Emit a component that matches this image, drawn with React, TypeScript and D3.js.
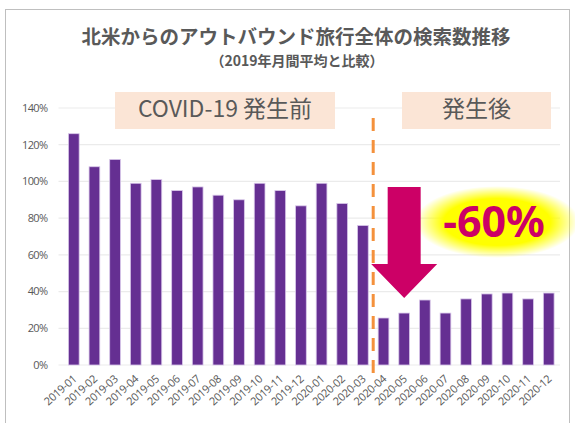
import React, { useEffect, useRef } from 'react';
import * as d3 from 'd3';

const months = [
  '2019-01', '2019-02', '2019-03', '2019-04', '2019-05', '2019-06', '2019-07', '2019-08',
  '2019-09', '2019-10', '2019-11', '2019-12', '2020-01', '2020-02', '2020-03', '2020-04',
  '2020-05', '2020-06', '2020-07', '2020-08', '2020-09', '2020-10', '2020-11', '2020-12',
];
const searchIndex = [
  126, 108, 112, 99, 101, 95, 97, 92.5, 90, 99, 95, 86.7, 99, 88, 76, 25.6,
  28.3, 35.4, 28.3, 36, 38.7, 39.2, 36, 39.2,
];
const yTicks = [0, 20, 40, 60, 80, 100, 120, 140];

const App = () => {
  const svgRef = useRef<SVGSVGElement>(null);

  useEffect(() => {
    const svg = d3.select(svgRef.current);
    const width = 575;
    const height = 423;
    const margin = { top: 108, right: 11, bottom: 58, left: 58.5 };
    const innerWidth = width - margin.left - margin.right;
    const innerHeight = height - margin.top - margin.bottom;
    const font = "'Noto Sans CJK JP', 'Noto Sans', sans-serif";

    svg.selectAll('*').remove();

    // frame
    svg.append('rect')
      .attr('x', 5.5).attr('y', 9.5)
      .attr('width', 564).attr('height', 430)
      .attr('fill', 'white').attr('stroke', '#bfbfbf');

    // title
    svg.append('text')
      .attr('x', 296).attr('y', 44)
      .attr('text-anchor', 'middle')
      .attr('font-family', font).attr('font-weight', 'bold').attr('font-size', 19.5)
      .attr('fill', '#595959')
      .text('北米からのアウトバウンド旅行全体の検索数推移');
    svg.append('text')
      .attr('x', 297).attr('y', 66)
      .attr('text-anchor', 'middle')
      .attr('font-family', font).attr('font-weight', 'bold').attr('font-size', 14)
      .attr('fill', '#595959')
      .text('（2019年月間平均と比較）');

    const g = svg.append('g').attr('transform', `translate(${margin.left},${margin.top})`);

    const x = d3.scaleBand().domain(months).range([0, innerWidth]).padding(0.48);
    const y = d3.scaleLinear().domain([0, 140]).range([innerHeight, 0]);

    // gridlines + y labels
    g.selectAll('.grid')
      .data(yTicks)
      .enter()
      .append('line')
      .attr('x1', 0).attr('x2', innerWidth - 4)
      .attr('y1', (d) => y(d)).attr('y2', (d) => y(d))
      .attr('stroke', '#ebebeb').attr('stroke-width', 1.2);

    g.selectAll('.ylab')
      .data(yTicks)
      .enter()
      .append('text')
      .attr('x', -11)
      .attr('y', (d) => y(d))
      .attr('dy', '0.35em')
      .attr('text-anchor', 'end')
      .attr('font-family', "'Open Sans', sans-serif").attr('font-size', 11)
      .attr('letter-spacing', -0.6)
      .attr('fill', '#595959')
      .text((d) => `${d}%`);

    // period boxes
    const boxes = [
      { label: 'COVID-19 発生前', x0: 115, x1: 335 },
      { label: '発生後', x0: 402, x1: 551 },
    ];
    boxes.forEach((b) => {
      svg.append('rect')
        .attr('x', b.x0).attr('y', 92)
        .attr('width', b.x1 - b.x0).attr('height', 37)
        .attr('fill', '#fbe5d6');
      svg.append('text')
        .attr('x', (b.x0 + b.x1) / 2).attr('y', 109)
        .attr('dy', '0.36em')
        .attr('text-anchor', 'middle')
        .attr('font-family', font).attr('font-size', 23)
        .attr('fill', '#595959')
        .text(b.label);
    });

    // bars
    g.selectAll('.bar')
      .data(searchIndex)
      .enter()
      .append('rect')
      .attr('x', (d, i) => x(months[i])!)
      .attr('y', (d) => y(d))
      .attr('width', x.bandwidth())
      .attr('height', (d) => innerHeight - y(d))
      .attr('fill', '#652f92')
      .attr('stroke', '#d9c8ea')
      .attr('stroke-width', 0.8);

    // x labels
    g.selectAll('.xlab')
      .data(months)
      .enter()
      .append('text')
      .attr('transform', (d) => `translate(${x(d)! + x.bandwidth() / 2 + 1},${innerHeight + 12}) rotate(-42)`)
      .attr('text-anchor', 'end')
      .attr('dy', '0.35em')
      .attr('font-family', "'Open Sans', sans-serif").attr('font-size', 11)
      .attr('letter-spacing', -0.3)
      .attr('fill', '#595959')
      .text((d) => d);

    // divider between 2020-03 and 2020-04
    const divX = (x('2020-03')! + x.bandwidth() + x('2020-04')!) / 2;
    g.append('line')
      .attr('x1', divX).attr('x2', divX)
      .attr('y1', 10).attr('y2', innerHeight + 10)
      .attr('stroke', '#f4913c').attr('stroke-width', 3)
      .attr('stroke-dasharray', '13,9');

    // -60% glow
    const defs = svg.append('defs');
    const grad = defs.append('radialGradient').attr('id', 'glow');
    grad.append('stop').attr('offset', '0%').attr('stop-color', '#ffff00').attr('stop-opacity', 1);
    grad.append('stop').attr('offset', '65%').attr('stop-color', '#ffff00').attr('stop-opacity', 1);
    grad.append('stop').attr('offset', '100%').attr('stop-color', '#ffff00').attr('stop-opacity', 0);
    svg.append('ellipse')
      .attr('cx', 497).attr('cy', 222)
      .attr('rx', 82).attr('ry', 36)
      .attr('fill', 'url(#glow)');

    // arrow
    const ax = x('2020-05')! + x.bandwidth() / 2 + margin.left;
    const arrow = d3.path();
    arrow.moveTo(ax - 16.5, 187);
    arrow.lineTo(ax + 16.5, 187);
    arrow.lineTo(ax + 16.5, 264);
    arrow.lineTo(ax + 33, 264);
    arrow.lineTo(ax, 298);
    arrow.lineTo(ax - 33, 264);
    arrow.lineTo(ax - 16.5, 264);
    arrow.closePath();
    svg.append('path').attr('d', arrow.toString()).attr('fill', '#cc0066');

    svg.append('text')
      .attr('x', 494).attr('y', 237)
      .attr('text-anchor', 'middle')
      .attr('font-family', "'Noto Sans', sans-serif").attr('font-weight', 'bold').attr('font-size', 43)
      .attr('fill', '#cc0066')
      .text('-60%');

    return () => {
      svg.selectAll('*').remove();
    };
  }, []);

  return <svg ref={svgRef} width={575} height={423} style={{ position: 'absolute', left: 0, top: 0 }}></svg>;
};

export default App;
